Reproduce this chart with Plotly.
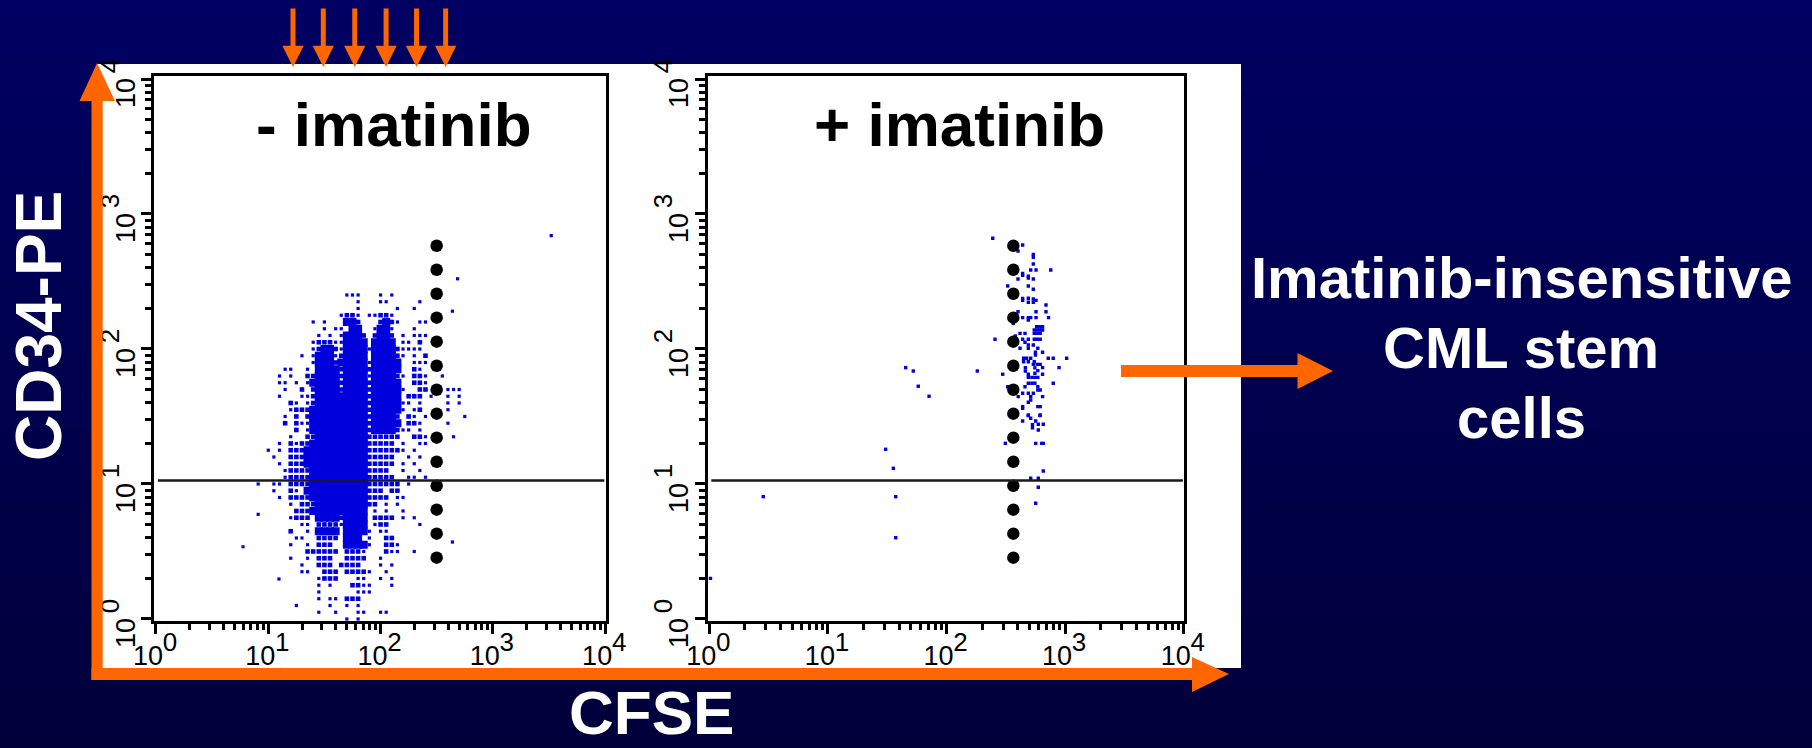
import math
import plotly.graph_objects as go

W, H = 1812, 748

# ---------------- data ----------------
DECADES = [1, 10, 100, 1000, 10000]
DECADE_BASE = ["10", "10", "10", "10", "10"]
DECADE_EXP = ["0", "1", "2", "3", "4"]
MINOR_TICKS = [m * 10 ** d for d in range(4) for m in range(2, 10)]

# "- imatinib" event density map: log10(CFSE) grid starts at 0.75, step 0.05;
# each row: (log10(CD34), first column index, pattern)  '#' dense, ':' medium, '.' single event
GRID_X0_LOG = 0.75
GRID_STEP = 0.05
LEFT_ROWS = [
    (2.40, 19, "...   . ."),
    (2.35, 21, ".   ..     ."),
    (2.30, 21, ".      .  ."),
    (2.25, 18, ".::. ..::."),
    (2.20, 13, ". .   ##:   :#:.   .."),
    (2.15, 15, ". .. ##  .##.   ."),
    (2.10, 14, ". . .###: :##: . ..."),
    (2.05, 13, ".:::..#### #### .. :"),
    (2.00, 13, ".:##:.####.####:...."),
    (1.95, 11, ". .###.:#### ####:. . :"),
    (1.90, 13, ".###:#####.#####  ..."),
    (1.85, 8, "..  . ####:####:#####  :."),
    (1.80, 7, ". .  ::####:####.####:. ::.  ."),
    (1.75, 7, ".. . .#####:####:#####  ::."),
    (1.70, 8, ".  : :####:####:#####.  ::   ..."),
    (1.65, 7, ".   ..:#########:##### ::: .  . ."),
    (1.60, 9, ":. .:#########:#####.. .    . ."),
    (1.55, 9, ".:::##########:#####. .:    ."),
    (1.50, 8, ". : :##########:####: :. .      ."),
    (1.45, 8, ": :..##########:##### ::.    ."),
    (1.40, 10, ": .##########:####:.. ."),
    (1.35, 9, ".  ::#########::::::  ::.    ."),
    (1.30, 7, ". :.::##########::::: .  .."),
    (1.25, 5, ". . :::###########::::::. ."),
    (1.20, 6, ".  :::###########:::::  . ."),
    (1.15, 7, ". :::###########::::: . ."),
    (1.10, 8, ".::::##########::::  .  ."),
    (1.05, 8, ".::::##########:::::  .. ."),
    (1.00, 6, ".. ::::##########:::::: ."),
    (0.95, 6, ".  :. ###########::: ::"),
    (0.90, 7, ". ::::##########:::: .."),
    (0.85, 9, ". :::#########:: . ."),
    (0.80, 10, ":::########## . .  ."),
    (0.75, 9, ".::: ####:#### :::: . ."),
    (0.70, 11, ".. ::::.#### .::     ."),
    (0.65, 9, ":  . #### ####. .."),
    (0.60, 10, "..  :::: ### .  ::"),
    (0.55, 9, ".  . :::  ####.  ::."),
    (0.50, 12, ":::::: :::.   :..  ."),
    (0.45, 9, ".  . :::  ::::  ."),
    (0.40, 11, ".  ::: ::::   . ."),
    (0.35, 11, "..  ::: ::::.  ."),
    (0.30, 14, ".:::   ..  . ."),
    (0.25, 14, ". .   ::..   ."),
    (0.20, 14, ".      ..."),
    (0.15, 14, ". .. :::"),
    (0.10, 10, ".     .  . ."),
    (0.05, 14, ".  .   ..  .."),
    (0.00, 19, ". ."),
]
DENSITY_SIZE = {"#": 8.0, ":": 4.6, ".": 3.2}

# isolated "- imatinib" events (log10 CFSE, log10 CD34)
LEFT_OUT_LOG_CFSE = [3.52, 2.686, 2.64, 0.775, 2.64, 0.91, 0.91, 1.095]
LEFT_OUT_LOG_CD34 = [2.84, 2.52, 2.28, 0.535, 0.57, 1.00, 0.775, 0.296]

# "+ imatinib" events (log10 CFSE, log10 CD34)
RIGHT_LOG_CFSE = [
    2.390, 2.642, 2.603, 2.732, 2.732, 2.732, 2.710, 2.755, 2.879, 2.642, 2.642, 2.690,
    2.690, 2.732, 2.603, 2.516, 2.690, 2.732, 2.642, 2.642, 2.690, 2.732, 2.755, 2.690,
    2.732, 2.839, 2.603, 2.755, 2.839, 2.642, 2.690, 2.710, 2.755, 2.860, 2.690, 2.563,
    2.760, 2.785, 2.810, 2.740, 2.765, 2.790, 2.810, 2.620, 2.662, 2.740, 2.765, 2.790,
    2.580, 2.690, 2.740, 2.765, 2.790, 2.409, 2.642, 2.662, 2.690, 2.732, 2.620, 2.690,
    2.770, 2.750, 2.810, 2.750, 2.650, 2.676, 2.710, 2.858, 2.900, 3.013, 2.650, 2.690,
    2.740, 2.732, 2.765, 2.790, 2.665, 2.665, 2.745, 2.770, 2.745, 2.810, 2.949, 2.690,
    2.770, 2.810, 2.690, 2.720, 2.745, 2.900, 2.690, 2.720, 2.745, 2.662, 2.770, 2.770,
    2.790, 2.642, 2.690, 2.732, 2.810, 2.710, 2.710, 2.690, 2.642, 2.642, 2.770, 2.790,
    2.690, 2.790, 2.710, 2.516, 2.605,
    1.656, 1.720, 2.260, 2.474, 1.762, 1.853,
    2.690, 2.788, 2.642, 2.752, 2.725, 2.725, 2.774, 2.816, 2.774, 2.496, 2.752, 2.803,
    2.816, 1.487, 1.552, 2.816, 2.710, 2.774, 2.774, 0.455, 1.572, 2.752, 1.572, 0.010,
]
RIGHT_LOG_CD34 = [
    2.820, 2.770, 2.726, 2.700, 2.680, 2.630, 2.585, 2.585, 2.585, 2.560, 2.545, 2.540,
    2.525, 2.519, 2.519, 2.467, 2.467, 2.442, 2.375, 2.360, 2.376, 2.370, 2.360, 2.346,
    2.346, 2.326, 2.276, 2.276, 2.276, 2.232, 2.232, 2.232, 2.232, 2.232, 2.215, 2.190,
    2.165, 2.165, 2.165, 2.141, 2.141, 2.141, 2.141, 2.116, 2.116, 2.116, 2.116, 2.116,
    2.096, 2.072, 2.072, 2.072, 2.072, 2.072, 2.072, 2.050, 2.030, 2.030, 2.005, 2.005,
    2.005, 1.976, 1.976, 1.956, 1.931, 1.931, 1.931, 1.931, 1.931, 1.931, 1.906, 1.906,
    1.906, 1.886, 1.886, 1.886, 1.862, 1.837, 1.860, 1.840, 1.820, 1.862, 1.862, 1.813,
    1.790, 1.813, 1.790, 1.790, 1.790, 1.746, 1.746, 1.746, 1.746, 1.720, 1.720, 1.696,
    1.696, 1.672, 1.672, 1.672, 1.647, 1.647, 1.622, 1.605, 1.573, 1.560, 1.573, 1.573,
    1.511, 1.511, 1.487, 1.720, 1.647,
    1.862, 1.837, 1.837, 1.813, 1.724, 1.650,
    1.506, 1.506, 1.467, 1.467, 1.440, 1.417, 1.442, 1.442, 1.400, 1.301, 1.301, 1.301,
    1.301, 1.257, 1.116, 1.096, 1.042, 1.042, 0.976, 0.906, 0.906, 0.857, 0.602, 0.301,
]

# dotted gate (black dots) and horizontal CD34 gate
GATE_DOTS_LOG_CD34 = [2.765, 2.587, 2.409, 2.232, 2.054, 1.876, 1.698, 1.521,
                      1.343, 1.165, 0.987, 0.810, 0.632, 0.454]
LEFT_DOTS_CFSE = 316
RIGHT_DOTS_CFSE = 366
GATE_CD34 = 10.6

# division peaks marked by the orange arrows on top
GEN_PEAKS_CFSE = [16.6, 30.9, 58.9, 112, 209, 380]

PANEL_TITLES = ["- imatinib", "+ imatinib"]
X_TITLE = "CFSE"
Y_TITLE = "CD34-PE"
SIDE_TEXT = ["Imatinib-insensitive", "CML stem", "cells"]

ORANGE = "#FF6600"
BLUE = "#0000DD"
TICK_FONT = "Liberation Sans Narrow, Arial Narrow, Liberation Sans, Arial, sans-serif"
BOLD_FONT = "Liberation Sans, Arial, Helvetica, sans-serif"


def px(x):
    return x / W


def py(y):
    return 1 - y / H


# ---------------- build marks ----------------
lx, ly, ls = [], [], []
for row_ly, start, pat in LEFT_ROWS:
    for k, ch in enumerate(pat):
        if ch in DENSITY_SIZE:
            lx.append(10 ** (GRID_X0_LOG + GRID_STEP * (start + k)))
            ly.append(10 ** row_ly)
            ls.append(DENSITY_SIZE[ch])
for a, b in zip(LEFT_OUT_LOG_CFSE, LEFT_OUT_LOG_CD34):
    lx.append(10 ** a)
    ly.append(10 ** b)
    ls.append(DENSITY_SIZE["."])

fig = go.Figure()
fig.add_trace(go.Scatter(
    x=lx, y=ly, mode="markers", xaxis="x", yaxis="y", hoverinfo="skip",
    marker=dict(symbol="square", size=ls, color=BLUE, opacity=1, line=dict(width=0))))
fig.add_trace(go.Scatter(
    x=[10 ** v for v in RIGHT_LOG_CFSE], y=[10 ** v for v in RIGHT_LOG_CD34],
    mode="markers", xaxis="x2", yaxis="y2", hoverinfo="skip",
    marker=dict(symbol="square", size=3.4, color=BLUE, opacity=1, line=dict(width=0))))
dots_y = [10 ** v for v in GATE_DOTS_LOG_CD34]
fig.add_trace(go.Scatter(
    x=[LEFT_DOTS_CFSE] * len(dots_y), y=dots_y, mode="markers", xaxis="x", yaxis="y",
    hoverinfo="skip", marker=dict(size=12.5, color="black", opacity=1, line=dict(width=0))))
fig.add_trace(go.Scatter(
    x=[RIGHT_DOTS_CFSE] * len(dots_y), y=dots_y, mode="markers", xaxis="x2", yaxis="y2",
    hoverinfo="skip", marker=dict(size=12.5, color="black", opacity=1, line=dict(width=0))))
# empty traces so the exponent overlay axes exist
for xa, ya in (("x3", "y"), ("x4", "y2"), ("x", "y3"), ("x2", "y4")):
    fig.add_trace(go.Scatter(x=[], y=[], xaxis=xa, yaxis=ya, hoverinfo="skip", showlegend=False))

# ---------------- axes ----------------
XRNG = [-0.015, 4.005]
YRNG = [-0.015, 4.02]
YDOM = [1 - 621.0 / H, 1 - 76.3 / H]
XDOM_L = [154.3 / W, 605.7 / W]
XDOM_R = [707.5 / W, 1184.3 / W]


def base_axis(domain, rng, anchor, vertical):
    d = dict(
        type="log", domain=domain, range=rng, anchor=anchor,
        showline=True, linecolor="black", linewidth=3, mirror=True,
        ticks="outside", ticklen=10, tickwidth=2.5, tickcolor="black",
        tickmode="array", tickvals=DECADES, ticktext=DECADE_BASE,
        tickfont=dict(family=TICK_FONT, size=27, color="black"),
        showgrid=False, zeroline=False, fixedrange=True,
        minor=dict(tickmode="array", tickvals=MINOR_TICKS, ticks="outside",
                   ticklen=6, tickwidth=2.5, tickcolor="black", showgrid=False),
    )
    if vertical:
        d.update(tickangle=-90, ticklabelstandoff=-4, ticklabelshift=18)
    else:
        d.update(tickangle=0, ticklabelstandoff=-1, ticklabelshift=-8)
    return d


def exp_axis(over, domain, rng, anchor, vertical):
    d = dict(
        type="log", overlaying=over, domain=domain, range=rng, anchor=anchor,
        showline=False, ticks="",
        tickmode="array", tickvals=DECADES, ticktext=DECADE_EXP,
        tickfont=dict(family=TICK_FONT, size=26, color="black"),
        showgrid=False, zeroline=False, fixedrange=True,
    )
    if vertical:
        d.update(tickangle=-90, ticklabelstandoff=29, ticklabelshift=-9)
    else:
        d.update(tickangle=0, ticklabelstandoff=3, ticklabelshift=14)
    return d


fig.update_layout(
    xaxis=base_axis(XDOM_L, XRNG, "y", False),
    yaxis=base_axis(YDOM, YRNG, "x", True),
    xaxis2=base_axis(XDOM_R, XRNG, "y2", False),
    yaxis2=base_axis(YDOM, YRNG, "x2", True),
    xaxis3=exp_axis("x", XDOM_L, XRNG, "y", False),
    xaxis4=exp_axis("x2", XDOM_R, XRNG, "y2", False),
    yaxis3=exp_axis("y", YDOM, YRNG, "x", True),
    yaxis4=exp_axis("y2", YDOM, YRNG, "x2", True),
)

# ---------------- background, panel, arrows ----------------
shapes = []
NB = 40
top_c, bot_c = (0, 0, 98), (0, 0, 58)
for i in range(NB):
    t = (i + 0.5) / NB
    c = tuple(round(top_c[j] + (bot_c[j] - top_c[j]) * t) for j in range(3))
    shapes.append(dict(type="rect", xref="paper", yref="paper", x0=0, x1=1,
                       y0=py(H * (i + 1) / NB + 0.5), y1=py(H * i / NB - 0.5),
                       fillcolor="rgb(%d,%d,%d)" % c, line=dict(width=0), layer="below"))
shapes.append(dict(type="rect", xref="paper", yref="paper", x0=px(97), x1=px(1241),
                   y0=py(668), y1=py(64), fillcolor="white", line=dict(width=0), layer="below"))

for xr, yr in (("x domain", "y"), ("x2 domain", "y2")):
    shapes.append(dict(type="line", xref=xr, yref=yr, x0=0.008, x1=0.997,
                       y0=GATE_CD34, y1=GATE_CD34, line=dict(color="#1a1a1a", width=2.5),
                       layer="above"))


def poly(points):
    return "M " + " L ".join("%.5f,%.5f" % (px(a), py(b)) for a, b in points) + " Z"


arrow_polys = [
    # vertical (CD34) axis arrow
    [(91.5, 680), (102.7, 680), (102.7, 101), (115, 101), (97.1, 63), (79.5, 101), (91.5, 101)],
    # horizontal (CFSE) axis arrow
    [(91.5, 668), (1192, 668), (1192, 657), (1229, 674), (1192, 692), (1192, 680), (91.5, 680)],
    # pointer to the side text
    [(1121, 365), (1297.5, 365), (1297.5, 353), (1333, 371), (1297.5, 389), (1297.5, 377), (1121, 377)],
]
for pts in arrow_polys:
    shapes.append(dict(type="path", xref="paper", yref="paper", path=poly(pts),
                       fillcolor=ORANGE, line=dict(width=0), layer="above"))
fig.update_layout(shapes=shapes)

# ---------------- text ----------------
ann = []
for v in GEN_PEAKS_CFSE:
    ann.append(dict(xref="x", yref="paper", x=math.log10(v), y=py(67), text="",
                    showarrow=True, axref="pixel", ayref="pixel", ax=0, ay=-60,
                    arrowhead=2, arrowsize=0.85, arrowwidth=5, arrowcolor=ORANGE))
for title, cx in zip(PANEL_TITLES, [393.5, 959]):
    ann.append(dict(xref="paper", yref="paper", x=px(cx), y=py(124), text="<b>%s</b>" % title,
                    showarrow=False, xanchor="center", yanchor="middle",
                    font=dict(family=BOLD_FONT, size=62, color="black")))
ann.append(dict(xref="paper", yref="paper", x=px(39), y=py(326), text="<b>%s</b>" % Y_TITLE,
                showarrow=False, textangle=-90, xanchor="center", yanchor="middle",
                font=dict(family=BOLD_FONT, size=64, color="white")))
ann.append(dict(xref="paper", yref="paper", x=px(651), y=0, text="<b>%s</b>" % X_TITLE,
                showarrow=False, xanchor="center", yanchor="bottom", borderpad=0,
                font=dict(family=BOLD_FONT, size=62, color="white")))
for line, base in zip(SIDE_TEXT, [297, 367, 437]):
    ann.append(dict(xref="paper", yref="paper", x=px(1521), y=py(base - 20), text="<b>%s</b>" % line,
                    showarrow=False, xanchor="center", yanchor="middle",
                    font=dict(family=BOLD_FONT, size=58, color="white")))
fig.update_layout(annotations=ann)

fig.update_layout(width=W, height=H,
                  margin=dict(l=0, r=0, t=0, b=0, pad=0, autoexpand=False),
                  showlegend=False, paper_bgcolor="#00004e", plot_bgcolor="rgba(0,0,0,0)")

fig.write_html("out.html", include_plotlyjs=True, config={"displayModeBar": False})
